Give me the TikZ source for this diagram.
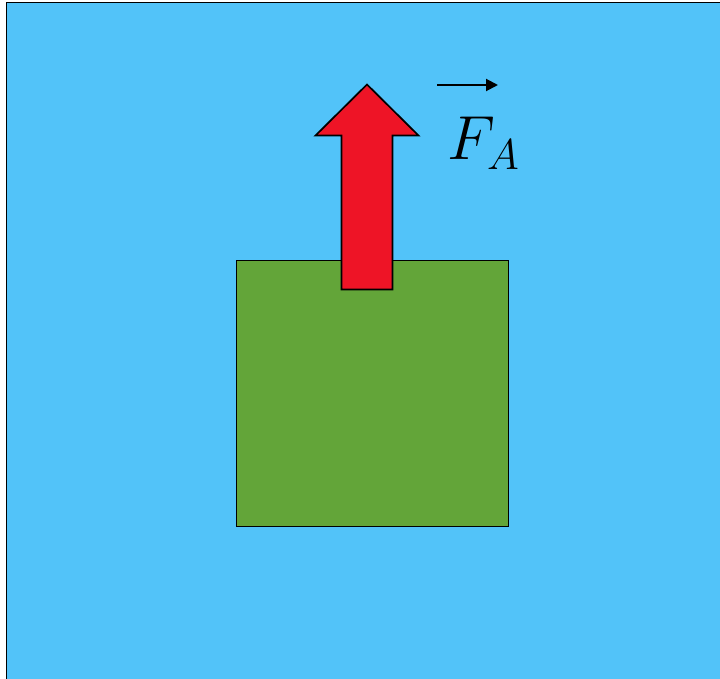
\documentclass[tikz,border=0pt]{standalone}
\usetikzlibrary{arrows.meta}
\definecolor{water}{RGB}{82,195,249}
\definecolor{body}{RGB}{99,165,57}
\definecolor{force}{RGB}{238,20,38}
\begin{document}
\begin{tikzpicture}[x=1pt,y=-1pt,
                    line/.style={line width=1.7pt,draw=black},
                    every node/.style={inner sep=0pt}]
 \useasboundingbox (0,0) rectangle (720,679);
 \clip (0,0) rectangle (720,679);
 \fill[white] (0,0) rectangle (720,679);
 \filldraw[line,fill=water] (6.5,2.5) rectangle (730,690);
 \filldraw[line,fill=body] (236.5,260.5) rectangle (508.5,526.5);
 \filldraw[line,fill=force,line join=miter]
   (341.5,289.5)--(341.5,135.5)--(315.5,135.5)--(367,84.5)
   --(418.5,135.5)--(392.5,135.5)--(392.5,289.5)--cycle;
 \coordinate (v1) at (437,85);
 \coordinate (v2) at (498,85);
 \draw[line width=2pt,-{Triangle[length=12pt,width=12pt]}] (v1)--(v2);
 \node[anchor=base west,scale=3] (fa) at (447,160) {\huge\(F_A\)};
\end{tikzpicture}
\end{document}
